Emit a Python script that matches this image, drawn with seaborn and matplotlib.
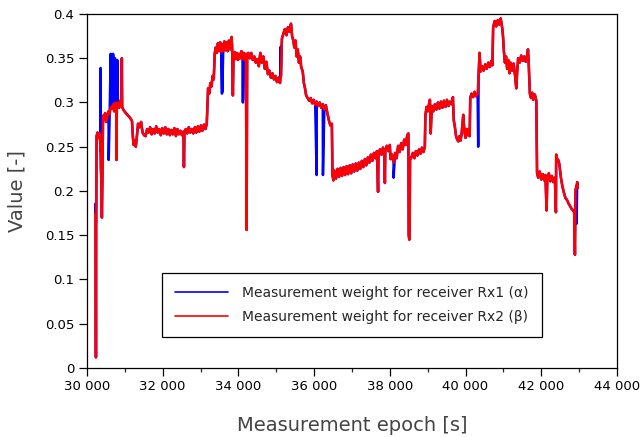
import numpy as np
import pandas as pd
import matplotlib
matplotlib.use("Agg")
import matplotlib.pyplot as plt
from matplotlib.ticker import MultipleLocator, FuncFormatter
import seaborn as sns

# ---- Rx2 (beta) measurement weight, epoch [s] / value [-], in time order ----
rx2_epoch_a = [30225, 30238, 30245, 30255, 30280, 30310, 30340, 30360, 30380, 30395,
               30410, 30425, 30450, 30480, 30510, 30540, 30570, 30600, 30630, 30660,
               30690, 30720, 30750, 30775, 30782, 30790, 30820, 30850, 30880, 30910,
               30922, 30930, 30960, 30990]
rx2_weight_a = [0.175, 0.012, 0.165, 0.262, 0.266, 0.260, 0.265, 0.245, 0.212, 0.170,
                0.220, 0.285, 0.280, 0.288, 0.278, 0.284, 0.290, 0.287, 0.295, 0.293,
                0.298, 0.290, 0.300, 0.296, 0.235, 0.297, 0.300, 0.294, 0.302, 0.296,
                0.350, 0.295, 0.292, 0.290]

rx2_epoch_b = [31030, 31070, 31110, 31150, 31190, 31215, 31235, 31260, 31290, 31320,
               31350, 31390, 31430, 31470, 31510, 31550, 31590, 31630, 31670, 31710,
               31750, 31790, 31830, 31870, 31910, 31950, 31990, 32030, 32070, 32110,
               32150, 32190, 32230, 32270, 32310, 32350, 32390, 32430, 32470, 32510,
               32550, 32562, 32575, 32610, 32650, 32690, 32730, 32770, 32810, 32850,
               32890, 32930, 32970, 33010, 33050, 33090, 33130, 33165]
rx2_weight_b = [0.288, 0.286, 0.284, 0.282, 0.279, 0.260, 0.252, 0.257, 0.250, 0.262,
                0.276, 0.272, 0.278, 0.266, 0.263, 0.262, 0.270, 0.266, 0.272, 0.264,
                0.270, 0.265, 0.273, 0.266, 0.270, 0.263, 0.271, 0.265, 0.272, 0.264,
                0.270, 0.263, 0.269, 0.264, 0.271, 0.262, 0.270, 0.264, 0.268, 0.263,
                0.267, 0.227, 0.266, 0.270, 0.265, 0.272, 0.266, 0.270, 0.265, 0.272,
                0.266, 0.273, 0.267, 0.274, 0.268, 0.275, 0.270, 0.276]

rx2_epoch_c = [33185, 33200, 33230, 33260, 33290, 33320, 33350, 33375, 33400, 33430,
               33460, 33490, 33520, 33550, 33570, 33600, 33630, 33660, 33690, 33720,
               33750, 33780, 33805, 33821, 33835, 33855, 33870, 33900, 33930, 33960,
               33990, 34020, 34050, 34080, 34110, 34140, 34170, 34200, 34218, 34232,
               34260]
rx2_weight_c = [0.300, 0.316, 0.310, 0.322, 0.318, 0.330, 0.326, 0.355, 0.362, 0.356,
                0.367, 0.358, 0.368, 0.357, 0.366, 0.358, 0.369, 0.359, 0.368, 0.358,
                0.370, 0.360, 0.367, 0.374, 0.362, 0.308, 0.350, 0.357, 0.349, 0.356,
                0.348, 0.355, 0.350, 0.358, 0.349, 0.356, 0.348, 0.355, 0.156, 0.350,
                0.356]

rx2_epoch_d = [34300, 34340, 34380, 34420, 34460, 34500, 34540, 34580, 34620, 34660,
               34700, 34740, 34780, 34820, 34860, 34900, 34940, 34980, 35020, 35060,
               35100, 35125, 35150, 35190, 35230, 35270, 35310, 35350, 35390, 35420,
               35450, 35480, 35510, 35540, 35570, 35600, 35630, 35660, 35700, 35730,
               35760, 35790, 35830, 35870, 35910, 35950, 35990, 36030, 36070, 36110,
               36150, 36190, 36230, 36270, 36310, 36350, 36390, 36430, 36470, 36485]
rx2_weight_d = [0.350, 0.356, 0.348, 0.352, 0.345, 0.349, 0.341, 0.356, 0.345, 0.352,
                0.338, 0.346, 0.332, 0.336, 0.328, 0.333, 0.326, 0.330, 0.323, 0.328,
                0.322, 0.330, 0.372, 0.378, 0.383, 0.376, 0.385, 0.380, 0.389, 0.375,
                0.370, 0.362, 0.370, 0.352, 0.360, 0.345, 0.352, 0.340, 0.335, 0.322,
                0.316, 0.308, 0.305, 0.302, 0.305, 0.299, 0.303, 0.297, 0.301, 0.296,
                0.300, 0.294, 0.298, 0.292, 0.297, 0.288, 0.280, 0.274, 0.276, 0.218]

rx2_epoch_e = [36510, 36540, 36580, 36620, 36660, 36700, 36740, 36780, 36820, 36860,
               36900, 36940, 36980, 37020, 37060, 37100, 37140, 37180, 37220, 37260,
               37300, 37340, 37380, 37420, 37460, 37500, 37540, 37580, 37620, 37660,
               37690, 37700, 37740, 37780, 37820, 37860, 37870, 37880, 37920, 37960,
               38000, 38020, 38060, 38100, 38140, 38180, 38220, 38260, 38300, 38340,
               38380, 38420, 38460, 38490, 38500, 38515, 38525, 38535]
rx2_weight_e = [0.212, 0.223, 0.214, 0.225, 0.216, 0.226, 0.217, 0.227, 0.218, 0.228,
                0.219, 0.229, 0.220, 0.230, 0.222, 0.231, 0.223, 0.232, 0.225, 0.234,
                0.227, 0.236, 0.229, 0.238, 0.232, 0.241, 0.234, 0.243, 0.237, 0.245,
                0.199, 0.240, 0.247, 0.241, 0.249, 0.242, 0.209, 0.245, 0.251, 0.245,
                0.252, 0.236, 0.241, 0.232, 0.243, 0.237, 0.251, 0.244, 0.254, 0.247,
                0.258, 0.252, 0.263, 0.265, 0.150, 0.145, 0.160, 0.235]

rx2_epoch_f = [38570, 38610, 38650, 38690, 38730, 38770, 38810, 38850, 38890, 38925,
               38940, 38970, 39000, 39030, 39060, 39080, 39110, 39150, 39190, 39230,
               39270, 39310, 39350, 39390, 39430, 39470, 39510, 39550, 39590, 39630,
               39667, 39690, 39720, 39750, 39780, 39810, 39840, 39870, 39900, 39940,
               39970, 40000, 40030, 40060, 40090, 40110]
rx2_weight_f = [0.238, 0.243, 0.237, 0.245, 0.240, 0.247, 0.242, 0.249, 0.244, 0.250,
                0.285, 0.295, 0.290, 0.297, 0.303, 0.265, 0.296, 0.290, 0.298, 0.292,
                0.300, 0.293, 0.301, 0.294, 0.302, 0.295, 0.303, 0.296, 0.301, 0.298,
                0.306, 0.280, 0.272, 0.262, 0.258, 0.256, 0.262, 0.257, 0.266, 0.286,
                0.268, 0.260, 0.270, 0.263, 0.270, 0.262]

rx2_epoch_g = [40125, 40160, 40200, 40240, 40280, 40320, 40345, 40370, 40400, 40440,
               40480, 40520, 40560, 40600, 40640, 40680, 40710, 40730, 40770, 40810,
               40850, 40890, 40930, 40970, 40990, 41010, 41040, 41070, 41100, 41130,
               41160, 41190, 41230, 41270, 41310, 41340, 41365, 41390, 41430, 41470,
               41510, 41550, 41590, 41630, 41650, 41670, 41700, 41730, 41760, 41790,
               41830, 41870]
rx2_weight_g = [0.305, 0.310, 0.306, 0.312, 0.307, 0.310, 0.330, 0.356, 0.335, 0.341,
                0.336, 0.343, 0.338, 0.345, 0.340, 0.347, 0.342, 0.385, 0.392, 0.386,
                0.393, 0.388, 0.395, 0.384, 0.375, 0.360, 0.345, 0.352, 0.338, 0.348,
                0.333, 0.345, 0.336, 0.344, 0.330, 0.316, 0.335, 0.350, 0.345, 0.353,
                0.347, 0.352, 0.346, 0.354, 0.360, 0.343, 0.310, 0.305, 0.311, 0.303,
                0.309, 0.302]

rx2_epoch_h = [41890, 41920, 41960, 42000, 42040, 42080, 42110, 42142, 42160, 42200,
               42240, 42280, 42320, 42360, 42388, 42395, 42420, 42450, 42480, 42520,
               42560, 42600, 42640, 42680, 42720, 42760, 42800, 42840, 42870, 42890,
               42905, 42930, 42950, 42965]
rx2_weight_h = [0.220, 0.215, 0.222, 0.213, 0.219, 0.212, 0.218, 0.178, 0.214, 0.220,
                0.211, 0.217, 0.210, 0.215, 0.176, 0.241, 0.236, 0.235, 0.230, 0.215,
                0.205, 0.198, 0.192, 0.190, 0.186, 0.183, 0.180, 0.178, 0.176, 0.128,
                0.200, 0.206, 0.210, 0.204]

# ---- Rx1 (alpha) samples where it departs from the Rx2 trace ----
rx1_epoch_extra = [30232, 30242, 30361, 30366, 30575, 30628, 30640, 30655, 30668, 30690,
                   30710, 30740, 30770, 30800, 33567, 33574, 34110, 34120, 34130, 35118,
                   35122, 36067, 36234, 38100, 40335, 42934]
rx1_weight_extra = [0.186, 0.165, 0.339, 0.227, 0.235, 0.355, 0.300, 0.352, 0.295, 0.355,
                    0.346, 0.350, 0.345, 0.348, 0.310, 0.312, 0.303, 0.300, 0.304, 0.363,
                    0.330, 0.218, 0.218, 0.215, 0.250, 0.163]

x_ticks = [30000, 32000, 34000, 36000, 38000, 40000, 42000, 44000]
y_ticks = [0, 0.05, 0.1, 0.15, 0.2, 0.25, 0.3, 0.35, 0.4]

label_rx1 = "Measurement weight for receiver Rx1 (\u03b1)"
label_rx2 = "Measurement weight for receiver Rx2 (\u03b2)"

rx2 = pd.DataFrame({
    "epoch": np.concatenate([rx2_epoch_a, rx2_epoch_b, rx2_epoch_c, rx2_epoch_d,
                             rx2_epoch_e, rx2_epoch_f, rx2_epoch_g, rx2_epoch_h]),
    "weight": np.concatenate([rx2_weight_a, rx2_weight_b, rx2_weight_c, rx2_weight_d,
                              rx2_weight_e, rx2_weight_f, rx2_weight_g, rx2_weight_h]),
})
rx1 = pd.concat([rx2, pd.DataFrame({"epoch": rx1_epoch_extra, "weight": rx1_weight_extra})],
                ignore_index=True).sort_values("epoch", kind="stable")

sns.set_style("ticks")
plt.rcParams["font.family"] = ["DejaVu Sans"]

fig = plt.figure(figsize=(6.44, 4.37), dpi=100)
ax = fig.add_axes([0.135, 0.158, 0.823, 0.810])

sns.lineplot(data=rx1, x="epoch", y="weight", color="#0000ff", lw=1.8,
             estimator=None, sort=False, label=label_rx1, ax=ax)
sns.lineplot(data=rx2, x="epoch", y="weight", color="#ff0000", lw=1.8,
             estimator=None, sort=False, label=label_rx2, ax=ax)

ax.set_xlim(x_ticks[0], x_ticks[-1])
ax.set_ylim(y_ticks[0], y_ticks[-1])
ax.set_xticks(x_ticks)
ax.set_yticks(y_ticks)
ax.xaxis.set_minor_locator(MultipleLocator(1000))
ax.xaxis.set_major_formatter(FuncFormatter(lambda v, p: f"{int(v):,}".replace(",", " ")))
ax.yaxis.set_major_formatter(FuncFormatter(lambda v, p: f"{v:g}"))
ax.tick_params(axis="both", which="major", direction="out", length=6, width=0.9,
               labelsize=9.5, colors="black", pad=3)
ax.tick_params(axis="x", which="minor", direction="out", length=2.6, width=0.9)

for s in ax.spines.values():
    s.set_visible(True)
    s.set_color("black")
    s.set_linewidth(0.9)

ax.set_xlabel("Measurement epoch [s]", fontsize=14, color="#444444", labelpad=16)
ax.set_ylabel("Value [-]", fontsize=14, color="#444444", labelpad=13)

leg = ax.legend(loc="lower center", bbox_to_anchor=(0.5, 0.088), fontsize=10,
                frameon=True, fancybox=False, framealpha=1, edgecolor="black",
                handlelength=3.8, handletextpad=1.0, labelspacing=0.7,
                borderpad=0.95, borderaxespad=0)
leg.get_frame().set_linewidth(0.9)
for line in leg.get_lines():
    line.set_linewidth(1.2)

fig.savefig("out.png", dpi=100)
